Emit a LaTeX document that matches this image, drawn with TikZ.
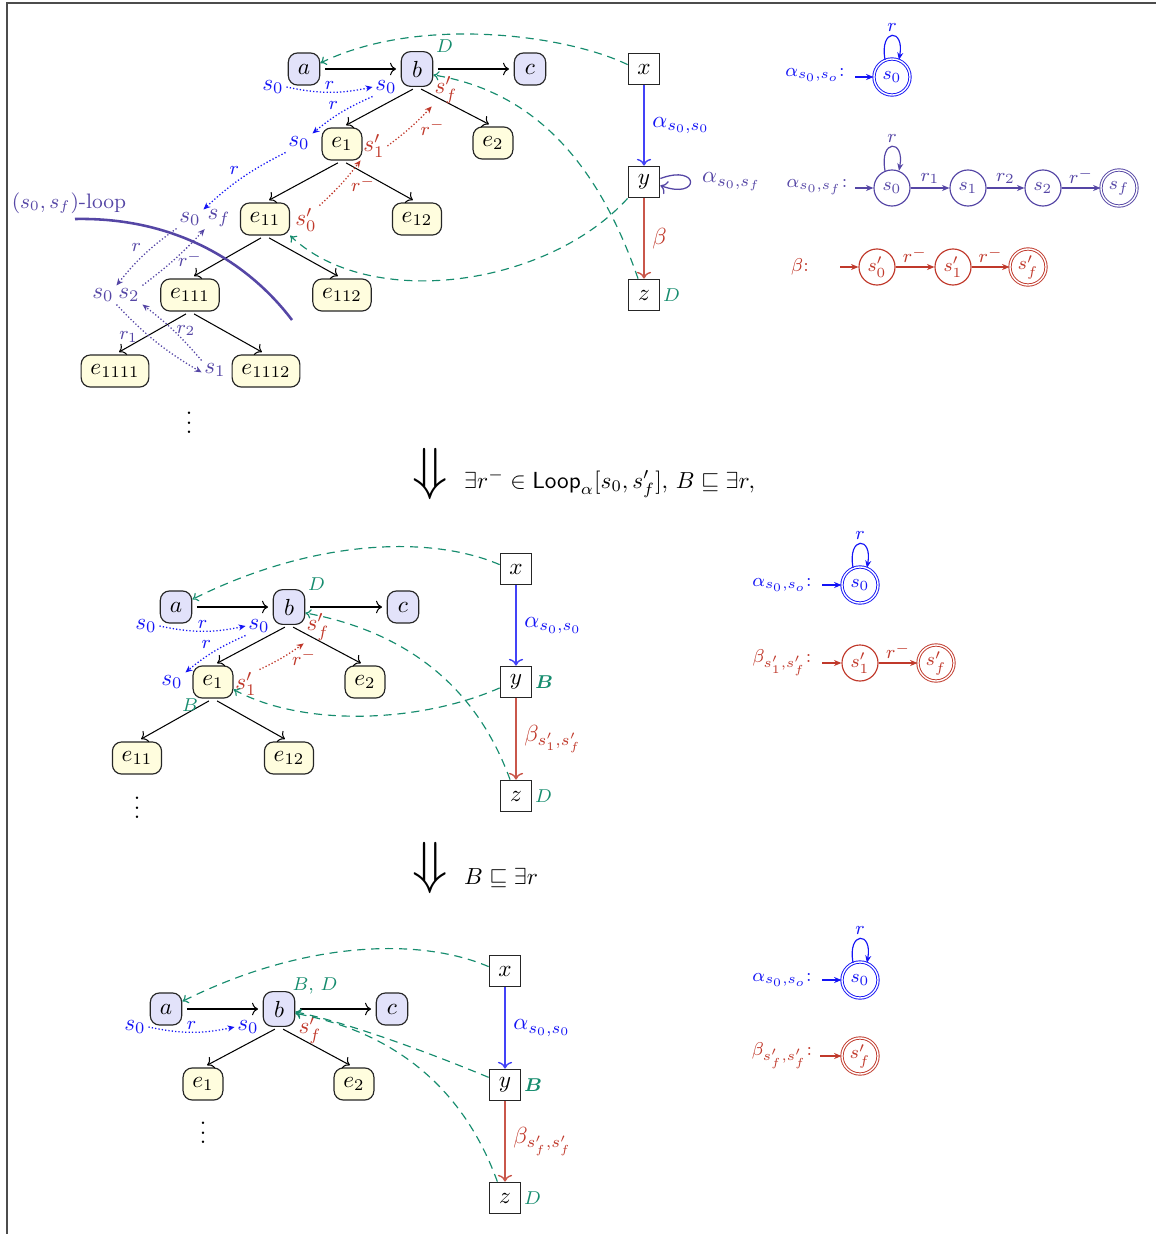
\documentclass[tikz,border=0pt]{standalone}
\usepackage{amsmath,amssymb,bm}
\usetikzlibrary{arrows.meta}
\definecolor{cblue}{RGB}{20,20,245}
\definecolor{cpurp}{RGB}{85,70,165}
\definecolor{cred}{RGB}{192,57,43}
\definecolor{cgreen}{RGB}{22,140,110}
\definecolor{clav}{RGB}{226,226,250}
\definecolor{ccream}{RGB}{255,253,222}
\tikzset{
 indnode/.style={draw=black!85, rounded corners=4pt, inner sep=4pt, minimum height=13.8pt, minimum width=13.5pt, line width=0.5pt},
 nA/.style={indnode, fill=clav},
 nE/.style={indnode, fill=ccream},
 varbox/.style={draw=black!85, line width=0.5pt, minimum width=13.6pt, minimum height=13.6pt, inner sep=2pt},
 tedge/.style={->, line width=0.45pt, shorten <=2pt, shorten >=2pt},
 lab/.style={inner sep=1pt},
 elab/.style={font=\footnotesize, inner sep=1pt},
 bdot/.style={cblue, line width=0.55pt, dash pattern=on 0.55pt off 0.9pt, -{Stealth[length=3pt,width=2.6pt]}},
 pdot/.style={bdot, cpurp},
 rdot/.style={bdot, cred},
 gdash/.style={cgreen, line width=0.5pt, dash pattern=on 3.5pt off 2.5pt, -{To[length=2.5pt,width=4pt]}},
 glab/.style={font=\footnotesize, text=cgreen, inner sep=1pt},
 st/.style={circle, draw, minimum size=15.5pt, inner sep=0pt, font=\footnotesize, line width=0.5pt},
 acc/.style={st, double, double distance=0.6pt, line width=0.4pt},
 aarr/.style={-{Stealth[length=3.2pt,width=2.6pt]}, line width=0.5pt},
 albl/.style={font=\footnotesize, inner sep=1.5pt},
 vblue/.style={->, draw=cblue!80, line width=0.6pt},
 vred/.style={->, draw=cred!85, line width=0.6pt}
}
\begin{document}
\begin{tikzpicture}[x=0.43pt,y=-0.43pt]
\useasboundingbox (0,0) rectangle (1156,1234);
\draw[black!70, line width=0.6pt] (7,1234) -- (7,3) -- (1156,3);

% ================= Section 1 =================
\node[nA] (a1) at (304,69) {$a$};
\node[nA] (b1) at (417,69) {$b$};
\node[nA] (c1) at (530,69) {$c$};
\node[nE] (e1a) at (342,144) {$e_1$};
\node[nE] (e2a) at (493,143) {$e_2$};
\node[nE] (e11a) at (265,219) {$e_{11}$};
\node[nE] (e12a) at (417,219) {$e_{12}$};
\node[nE] (e111a) at (190,295) {$e_{111}$};
\node[nE] (e112a) at (342,295) {$e_{112}$};
\node[nE] (e1111a) at (115,371) {$e_{1111}$};
\node[nE] (e1112a) at (266,371) {$e_{1112}$};
\node (dots1) at (189,416) {$\vdots$};
\draw[tedge] (a1.east) -- (b1.west);
\draw[tedge] (b1.east) -- (c1.west);
\draw[tedge] (b1.south) -- (e1a.north);
\draw[tedge] (b1.south) -- (e2a.north);
\draw[tedge] (e1a.south) -- (e11a.north);
\draw[tedge] (e1a.south) -- (e12a.north);
\draw[tedge] (e11a.south) -- (e111a.north);
\draw[tedge] (e11a.south) -- (e112a.north);
\draw[tedge] (e111a.south) -- (e1111a.north);
\draw[tedge] (e111a.south) -- (e1112a.north);

\node[varbox] (x1) at (644,69) {$x$};
\node[varbox] (y1) at (644,182) {$y$};
\node[varbox] (z1) at (644,295) {$z$};
\draw[vblue] (x1) -- node[right, text=cblue]{$\alpha_{s_0,s_0}$} (y1);
\draw[vred] (y1) -- node[right, text=cred]{$\beta$} (z1);
\draw[->, cpurp, line width=0.55pt] (y1.12) .. controls +(40,-15) and +(40,15) .. (y1.-12);
\node[text=cpurp, anchor=west] (lsf) at (694,182) {$\alpha_{s_0,s_f}$};
\node[glab, anchor=west] (D1z) at (z1.east) {$D$};
\node[glab, anchor=south west] (D1b) at ([yshift=-2pt]b1.north east) {$D$};

\node[lab, text=cblue] (s1a) at (273,87) {$s_0$};
\node[lab, text=cblue] (s1b) at (386,87) {$s_0$};
\node[lab, text=cblue] (s1e1) at (299,143) {$s_0$};
\node[lab, text=cpurp] (s1e11) at (190,219) {$s_0$};
\node[lab, text=cpurp] (sf1e11) at (219,218) {$s_f$};
\node[lab, text=cpurp] (s0e111) at (103,295) {$s_0$};
\node[lab, text=cpurp] (s2e111) at (129,295) {$s_2$};
\node[lab, text=cpurp] (s1e1112) at (215,370) {$s_1$};
\node[lab, text=cred] (p0e11) at (306,220) {$s'_0$};
\node[lab, text=cred] (p1e1) at (374,146) {$s'_1$};
\node[lab, text=cred] (pfb) at (446,90) {$s'_f$};

\draw[bdot] (s1a.east) to[bend right=12] node[elab, above, text=cblue]{$r$} (s1b.west);
\draw[bdot] (s1b.south west) to[bend right=8] node[elab, above left, text=cblue]{$r$} (s1e1.north east);
\draw[bdot] (s1e1.south west) to[bend right=8] node[elab, above left, text=cblue]{$r$} (s1e11.north east);
\draw[pdot] (s1e11.south west) to[bend right=8] node[elab, above left, text=cpurp]{$r$} (s0e111.north east);
\draw[pdot] (s0e111.south east) to[bend right=8] node[elab, below left, pos=0.3, text=cpurp]{$r_1$} (s1e1112.190);
\draw[pdot] (s1e1112.north west) to[bend right=6] node[elab, right, text=cpurp]{$r_2$} (s2e111.south east);
\draw[pdot] (s2e111.north east) to[bend right=5] node[elab, right, text=cpurp]{$r^-$} (sf1e11.south west);
\draw[rdot] (p0e11.north east) to[bend right=5] node[elab, right=3pt, text=cred]{$r^-$} (p1e1.south west);
\draw[rdot] (p1e1.east) to[bend right=5] node[elab, right=3pt, text=cred]{$r^-$} (pfb.south west);

\coordinate (lpA) at (75,219);
\coordinate (lpB) at (292,320);
\draw[cpurp, line width=1.1pt] (lpA) .. controls (175,217) and (248,262) .. (lpB);
\node[text=cpurp, font=\small] (lpl) at (69,203) {$(s_0,s_f)$-loop};

\draw[gdash] (x1.165) .. controls +(-62,-30) and +(98,-48) .. (a1.20);
\draw[gdash] (z1.110) .. controls +(-45,-130) and +(90,15) .. (b1.-20);
\draw[gdash] (y1.south west) .. controls +(-80,88) and +(80,76) .. (e11a.south east);

% automata section 1
\node[font=\footnotesize, text=cblue] (La1) at (815,75) {$\alpha_{s_0,s_o}$:};
\node[acc, draw=cblue, text=cblue] (qa1) at (892,77) {$s_0$};
\coordinate (ia1) at (855,77);
\draw[aarr, cblue] (ia1) -- (qa1);
\draw[aarr, cblue] (qa1.112) .. controls +(-6,-32) and +(6,-32) .. (qa1.68) node[pos=0.5, above, albl]{$r$};

\node[font=\footnotesize, text=cpurp] (La2) at (817,187) {$\alpha_{s_0,s_f}$:};
\node[st, draw=cpurp, text=cpurp] (qb0) at (892,188) {$s_0$};
\node[st, draw=cpurp, text=cpurp] (qb1) at (968,188) {$s_1$};
\node[st, draw=cpurp, text=cpurp] (qb2) at (1043,188) {$s_2$};
\node[acc, draw=cpurp, text=cpurp] (qbf) at (1119,188) {$s_f$};
\coordinate (ib) at (855,188);
\draw[aarr, cpurp] (ib) -- (qb0);
\draw[aarr, cpurp] (qb0) -- node[above, albl]{$r_1$} (qb1);
\draw[aarr, cpurp] (qb1) -- node[above, albl]{$r_2$} (qb2);
\draw[aarr, cpurp] (qb2) -- node[above, albl]{$r^-$} (qbf);
\draw[aarr, cpurp] (qb0.112) .. controls +(-6,-32) and +(6,-32) .. (qb0.68) node[pos=0.5, above, albl]{$r$};

\node[font=\footnotesize, text=cred] (La3) at (800,267) {$\beta$:};
\node[st, draw=cred, text=cred] (qc0) at (877,267) {$s'_0$};
\node[st, draw=cred, text=cred] (qc1) at (953,267) {$s'_1$};
\node[acc, draw=cred, text=cred] (qcf) at (1028,267) {$s'_f$};
\coordinate (ic) at (840,267);
\draw[aarr, cred] (ic) -- (qc0);
\draw[aarr, cred] (qc0) -- node[above, albl]{$r^-$} (qc1);
\draw[aarr, cred] (qc1) -- node[above, albl]{$r^-$} (qcf);

% big arrow 1
\node[font=\Huge] (dA) at (430,474) {$\Downarrow$};
\node[anchor=west] (tA) at (456,484) {$\exists r^- \in \mathsf{Loop}_\alpha[s_0,s'_f],\,B \sqsubseteq \exists r,$};

% ================= Section 2 =================
\node[nA] (a2) at (176,607) {$a$};
\node[nA] (b2) at (289,607) {$b$};
\node[nA] (c2) at (403,607) {$c$};
\node[nE] (e1b) at (213,682) {$e_1$};
\node[nE] (e2b) at (365,682) {$e_2$};
\node[nE] (e11b) at (137,758) {$e_{11}$};
\node[nE] (e12b) at (289,758) {$e_{12}$};
\node (dots2) at (137,801) {$\vdots$};
\draw[tedge] (a2.east) -- (b2.west);
\draw[tedge] (b2.east) -- (c2.west);
\draw[tedge] (b2.south) -- (e1b.north);
\draw[tedge] (b2.south) -- (e2b.north);
\draw[tedge] (e1b.south) -- (e11b.north);
\draw[tedge] (e1b.south) -- (e12b.north);

\node[varbox] (x2) at (516,569) {$x$};
\node[varbox] (y2) at (516,682) {$y$};
\node[varbox] (z2) at (516,796) {$z$};
\draw[vblue] (x2) -- node[right, text=cblue]{$\alpha_{s_0,s_0}$} (y2);
\draw[vred] (y2) -- node[right, text=cred]{$\beta_{s'_1,s'_f}$} (z2);
\node[glab, anchor=west] (B2y) at (y2.east) {$\bm{B}$};
\node[glab, anchor=west] (D2z) at (z2.east) {$D$};
\node[glab, anchor=south west] (D2b) at ([yshift=-2pt]b2.north east) {$D$};
\node[glab] (B2e) at (190,705) {$B$};

\node[lab, text=cblue] (s2a) at (146,626) {$s_0$};
\node[lab, text=cblue] (s2b) at (259,626) {$s_0$};
\node[lab, text=cblue] (s2e1) at (172,682) {$s_0$};
\node[lab, text=cred] (p1e1b) at (246,684) {$s'_1$};
\node[lab, text=cred] (pfb2) at (318,627) {$s'_f$};
\draw[bdot] (s2a.east) to[bend right=12] node[elab, above, text=cblue]{$r$} (s2b.west);
\draw[bdot] (s2b.south west) to[bend right=8] node[elab, above left, text=cblue]{$r$} (s2e1.north east);
\draw[rdot] (p1e1b.north east) to[bend right=5] node[elab, right=3pt, text=cred]{$r^-$} (pfb2.south west);

\draw[gdash] (x2.165) .. controls +(-70,-30) and +(120,-60) .. (a2.25);
\draw[gdash] (z2.110) .. controls +(-40,-110) and +(80,15) .. (b2.-20);
\draw[gdash] (y2.200) .. controls +(-80,35) and +(70,38) .. (e1b.-20);

\node[font=\footnotesize, text=cblue] (Lb1) at (782,585) {$\alpha_{s_0,s_o}$:};
\node[acc, draw=cblue, text=cblue] (qd0) at (860,585) {$s_0$};
\coordinate (id) at (822,585);
\draw[aarr, cblue] (id) -- (qd0);
\draw[aarr, cblue] (qd0.112) .. controls +(-6,-32) and +(6,-32) .. (qd0.68) node[pos=0.5, above, albl]{$r$};
\node[font=\footnotesize, text=cred] (Lb2) at (782,663) {$\beta_{s'_1,s'_f}$:};
\node[st, draw=cred, text=cred] (qe1) at (860,663) {$s'_1$};
\node[acc, draw=cred, text=cred] (qef) at (936,663) {$s'_f$};
\coordinate (ie) at (822,663);
\draw[aarr, cred] (ie) -- (qe1);
\draw[aarr, cred] (qe1) -- node[above, albl]{$r^-$} (qef);

% big arrow 2
\node[font=\Huge] (dB) at (430,868) {$\Downarrow$};
\node[anchor=west] (tB) at (456,878) {$B \sqsubseteq \exists r$};

% ================= Section 3 =================
\node[nA] (a3) at (166,1009) {$a$};
\node[nA] (b3) at (279,1009) {$b$};
\node[nA] (c3) at (392,1009) {$c$};
\node[nE] (e1c) at (203,1084) {$e_1$};
\node[nE] (e2c) at (354,1084) {$e_2$};
\node (dots3) at (203,1126) {$\vdots$};
\draw[tedge] (a3.east) -- (b3.west);
\draw[tedge] (b3.east) -- (c3.west);
\draw[tedge] (b3.south) -- (e1c.north);
\draw[tedge] (b3.south) -- (e2c.north);

\node[varbox] (x3) at (505,971) {$x$};
\node[varbox] (y3) at (505,1085) {$y$};
\node[varbox] (z3) at (505,1198) {$z$};
\draw[vblue] (x3) -- node[right, text=cblue]{$\alpha_{s_0,s_0}$} (y3);
\draw[vred] (y3) -- node[right, text=cred]{$\beta_{s'_f,s'_f}$} (z3);
\node[glab, anchor=west] (B3y) at (y3.east) {$\bm{B}$};
\node[glab, anchor=west] (D3z) at (z3.east) {$D$};
\node[glab] (BD3) at (315,986) {$B$, $D$};

\node[lab, text=cblue] (s3a) at (135,1027) {$s_0$};
\node[lab, text=cblue] (s3b) at (248,1027) {$s_0$};
\node[lab, text=cred] (pfb3) at (310,1030) {$s'_f$};
\draw[bdot] (s3a.east) to[bend right=12] node[elab, above, text=cblue]{$r$} (s3b.west);

\draw[gdash] (x3.165) .. controls +(-70,-30) and +(120,-60) .. (a3.25);
\draw[gdash] (y3.155) .. controls +(-60,-25) and +(50,10) .. (b3.-10);
\draw[gdash] (z3.115) .. controls +(-40,-110) and +(80,15) .. (b3.-15);

\node[font=\footnotesize, text=cblue] (Lc1) at (782,980) {$\alpha_{s_0,s_o}$:};
\node[acc, draw=cblue, text=cblue] (qg0) at (860,980) {$s_0$};
\coordinate (ig) at (822,980);
\draw[aarr, cblue] (ig) -- (qg0);
\draw[aarr, cblue] (qg0.112) .. controls +(-6,-32) and +(6,-32) .. (qg0.68) node[pos=0.5, above, albl]{$r$};
\node[font=\footnotesize, text=cred] (Lc2) at (782,1056) {$\beta_{s'_f,s'_f}$:};
\node[acc, draw=cred, text=cred] (qhf) at (860,1056) {$s'_f$};
\coordinate (ih) at (820,1056);
\draw[aarr, cred] (ih) -- (qhf);
\end{tikzpicture}
\end{document}
